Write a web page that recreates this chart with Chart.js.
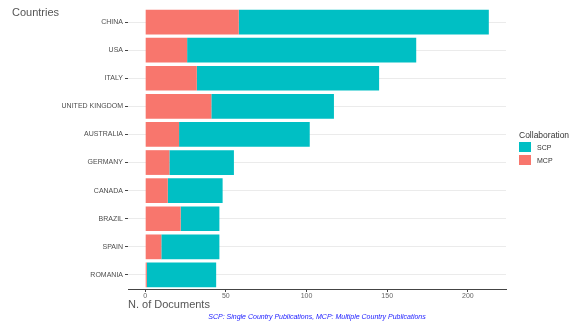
<!DOCTYPE html>
<html>
<head>
<meta charset="utf-8">
<script src="https://cdn.jsdelivr.net/npm/chart.js@4.4.1/dist/chart.umd.min.js"></script>
<style>
  body { margin: 0; background: #fff; }
  #wrap { position: relative; width: 571px; height: 326px; font-family: "Liberation Sans", Arial, sans-serif; }
  #wrap canvas { position: absolute; left: 0; top: 0; }
  .ytitle { position: absolute; left: 12px; top: 6px; font-size: 11px; color: #555; }
  .caption { position: absolute; left: 128px; width: 378px; top: 313px; text-align: center; font-size: 7px; font-style: italic; color: #1a1aff; }
  .legend { position: absolute; left: 519px; top: 130px; font-size: 7px; color: #333; }
  .legend .ttl { font-size: 8.5px; }
  .legend .row { display: flex; align-items: center; height: 12px; margin-top: 1px; }
  .legend .sw { width: 12px; height: 10px; margin-right: 6px; }
</style>
</head>
<body>
<div id="wrap">
  <canvas id="chart" width="571" height="326"></canvas>
  <div class="ytitle">Countries</div>
  <div class="legend" id="legend"><div class="ttl">Collaboration</div></div>
  <div class="caption" id="caption"></div>
</div>
<script>
// 값은 그림에서 읽은 추정치
const countries = ["CHINA", "USA", "ITALY", "UNITED KINGDOM", "AUSTRALIA", "GERMANY", "CANADA", "BRAZIL", "SPAIN", "ROMANIA"];
const mcp = [58, 26, 32, 41, 21, 15, 14, 22, 10, 1];
const scp = [155, 142, 113, 76, 81, 40, 34, 24, 36, 43];
const xTicks = [0, 50, 100, 150, 200];
const captionText = "SCP: Single Country Publications, MCP: Multiple Country Publications";

const colSCP = '#00BFC4';
const colMCP = '#F8766D';

// ggplot 식 5% 여백
const totals = countries.map((c, i) => mcp[i] + scp[i]);
const maxTotal = Math.max(...totals);
const pad = maxTotal * 0.05;

// 범례 (SCP 먼저)
const legend = document.getElementById('legend');
[["SCP", colSCP], ["MCP", colMCP]].forEach(([name, col]) => {
    const row = document.createElement('div');
    row.className = 'row';
    row.innerHTML = `<span class="sw" style="background:${col}"></span><span>${name}</span>`;
    legend.appendChild(row);
});
document.getElementById('caption').textContent = captionText;

new Chart(document.getElementById('chart'), {
    type: 'bar',
    data: {
        labels: countries,
        datasets: [
            { label: 'MCP', data: mcp, backgroundColor: colMCP, barPercentage: 0.88, categoryPercentage: 1 },
            { label: 'SCP', data: scp, backgroundColor: colSCP, barPercentage: 0.88, categoryPercentage: 1 }
        ]
    },
    options: {
        indexAxis: 'y',
        responsive: false,
        animation: false,
        layout: { padding: { top: 8, right: 65, left: 0, bottom: 14 } },
        plugins: { legend: { display: false }, tooltip: { enabled: false } },
        scales: {
            x: {
                stacked: true,
                min: -pad,
                max: maxTotal + pad,
                afterBuildTicks: axis => { axis.ticks = xTicks.map(v => ({ value: v })); },
                afterFit: scale => { scale.height = 23; },
                grid: { drawOnChartArea: false, drawTicks: true, tickLength: 3, tickColor: '#444' },
                border: { display: true, color: '#444', width: 1 },
                ticks: { padding: 0, color: '#666', font: { family: 'Liberation Sans, Arial', size: 7 } },
                title: {
                    display: true, text: 'N. of Documents', align: 'start', color: '#555',
                    padding: 0, font: { family: 'Liberation Sans, Arial', size: 11 }
                }
            },
            y: {
                stacked: true,
                afterFit: scale => { scale.width = 128; },
                grid: { offset: false, color: '#ebebeb', lineWidth: 1, drawTicks: true, tickLength: 3, tickColor: '#444' },
                border: { display: false },
                ticks: { padding: 2, color: '#4d4d4d', font: { family: 'Liberation Sans, Arial', size: 7 } }
            }
        }
    }
});
</script>
</body>
</html>
